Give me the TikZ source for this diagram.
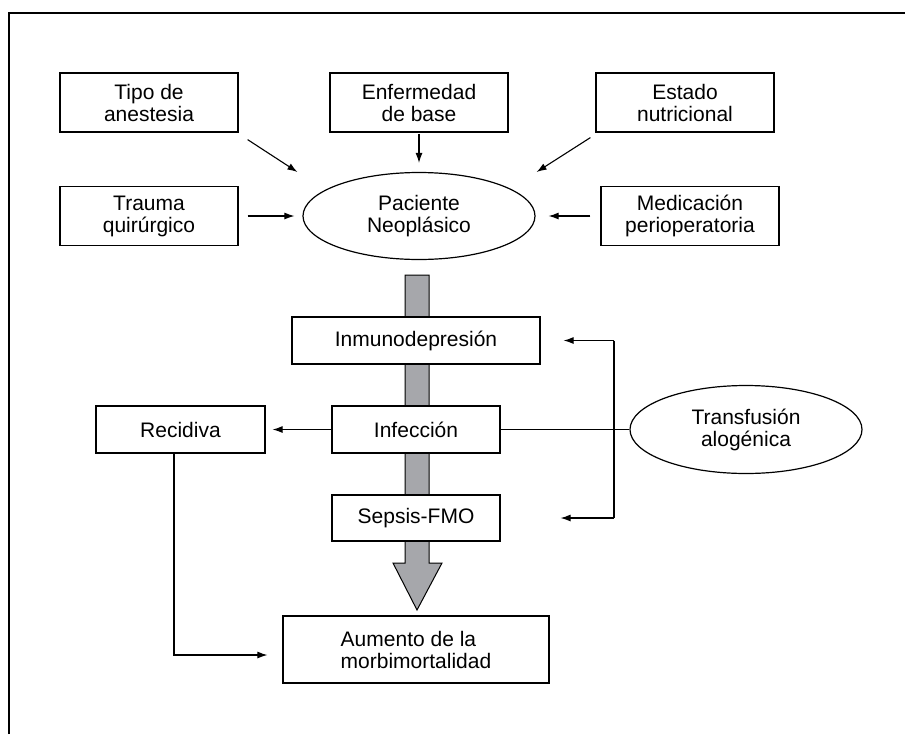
\documentclass[tikz,border=0pt]{standalone}
\usepackage{fontspec}
\setmainfont{Liberation Sans}
\usetikzlibrary{shapes.geometric,arrows.meta}
\definecolor{barfill}{RGB}{166,167,171}
\tikzset{
	box/.style={draw,fill=white,line width=1.2pt,inner sep=0pt,align=center,font=\fontsize{21}{22}\selectfont},
	oval/.style={ellipse,draw,fill=white,line width=1.2pt,inner sep=0pt,align=center,font=\fontsize{21}{22}\selectfont},
	arr/.style={-{Latex[length=10pt,width=7pt]},line width=1.1pt}
}
\begin{document}
\begin{tikzpicture}[x=1pt,y=-1pt]
	\useasboundingbox (0,0) rectangle (905,734);
	\draw[line width=1.2pt] (9,734) -- (9,13) -- (905,13);

	\filldraw[fill=barfill,line width=1pt] (405,275) -- (429,275) -- (429,563) -- (442,563) -- (417,610) -- (393,563) -- (405,563) -- cycle;

	\node (tipo) at (149,102.5) [box,minimum width=178pt,minimum height=59pt]{Tipo de\\anestesia};
	\node (enf) at (419,102.5) [box,minimum width=178pt,minimum height=59pt]{Enfermedad\\de base};
	\node (estado) at (685,102.5) [box,minimum width=178pt,minimum height=59pt]{Estado\\nutricional};
	\node (trauma) at (149,216) [box,minimum width=178pt,minimum height=59pt]{Trauma\\quirúrgico};
	\node (med) at (690,216) [box,minimum width=178pt,minimum height=59pt]{Medicación\\perioperatoria};
	\node (pac) at (419,216) [oval,minimum width=232pt,minimum height=87pt]{Paciente\\Neoplásico};

	\node (inmuno) at (416,340.5) [box,minimum width=248pt,minimum height=47pt]{Inmunodepresión};
	\node (infec) at (416,429.5) [box,minimum width=168pt,minimum height=47pt]{Infección};
	\node (recid) at (180.5,429.5) [box,minimum width=169pt,minimum height=47pt]{Recidiva};
	\node (sepsis) at (416,518) [box,minimum width=168pt,minimum height=46pt]{Sepsis-FMO};
	\node (trans) at (746,429.5) [oval,minimum width=232pt,minimum height=88pt]{Transfusión\\alogénica};
	\node (aumento) at (416,649.5) [box,minimum width=266pt,minimum height=67pt,align=left]{Aumento de la\\morbimortalidad};

	\draw[arr] ([xshift=9pt,yshift=-7pt]tipo.south east) -- ([xshift=-5pt,yshift=44pt]pac.west);
	\draw[arr,shorten <=1pt,shorten >=9pt] (enf) -- (pac);
	\draw[arr] ([xshift=-5pt,yshift=-5pt]estado.south west) -- ([xshift=1pt,yshift=44pt]pac.east);
	\draw[arr,shorten <=9pt,shorten >=8pt] (trauma) -- (pac);
	\draw[arr,shorten <=10pt,shorten >=13pt] (med) -- (pac);

	\draw[arr,shorten >=7pt] (infec) -- (recid);
	\draw[line width=1.1pt] (infec) -- (trans);
	\coordinate (jtop) at (614,340.5);
	\coordinate (jbot) at (614,518);
	\draw[line width=1.1pt] (jtop) -- (jbot);
	\draw[arr,shorten >=23pt] (jtop) -- (inmuno);
	\draw[arr,shorten >=60pt] (jbot) -- (sepsis);
	\draw[arr,shorten >=15pt] ([xshift=-6.5pt]recid.south) |- ([yshift=-5.5pt]aumento.west);
\end{tikzpicture}
\end{document}
